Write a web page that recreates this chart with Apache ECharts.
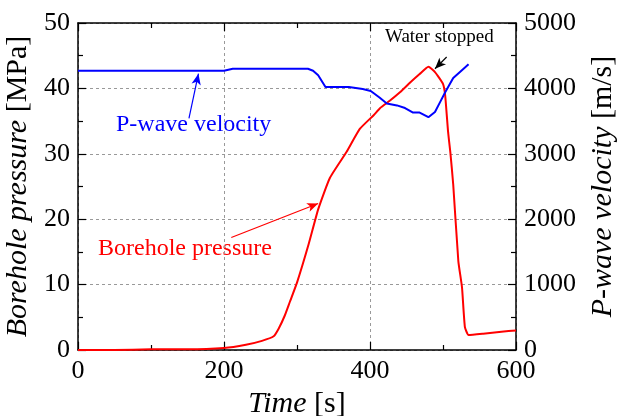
<!DOCTYPE html>
<html>
<head>
<meta charset="utf-8">
<script src="https://cdn.jsdelivr.net/npm/echarts@6/dist/echarts.min.js"></script>
<style>
html,body{margin:0;padding:0;background:#fff;}
#chart{width:622px;height:416px;}
</style>
</head>
<body>
<div id="chart"></div>
<script>
// ---- data ----
var pressureTime = [0, 50, 100, 150, 200, 230, 252, 268, 275, 283, 290, 300, 316, 329, 345, 368, 386, 405, 414, 427, 441, 455, 468, 480, 489, 500, 503, 507, 510, 514, 521, 526, 530, 535, 555, 580, 600];
var pressure     = [0, 0, 0.1, 0.1, 0.3, 0.8, 1.4, 2.1, 3.3, 5.2, 7.3, 10.3, 16.2, 21.5, 26.3, 30.3, 33.8, 35.9, 37.0, 38.1, 39.4, 40.9, 42.2, 43.3, 42.5, 40.7, 38.9, 33.3, 30.3, 25.3, 13.6, 9.6, 3.5, 2.3, 2.5, 2.8, 3.0];

var velocityTime = [0, 200, 212, 315, 322, 329, 339, 371, 390, 401, 413, 423, 437, 448, 459, 468, 480, 489, 496, 503, 514, 524, 535];
var velocity     = [4270, 4270, 4300, 4300, 4270, 4200, 4020, 4020, 3990, 3960, 3860, 3770, 3740, 3700, 3630, 3630, 3560, 3640, 3790, 3940, 4160, 4260, 4370];

var xTicks = [0, 200, 400, 600];
var pressureTicks = [0, 10, 20, 30, 40, 50];
var velocityTicks = [0, 1000, 2000, 3000, 4000, 5000];

// annotation arrows [from, to] in data coordinates
var velArrow = [[152, 3540], [165, 4225]];
var presArrow = [[210, 17.2], [329, 22.4]];
var stopArrow = [[505, 44.8], [489, 43.0]];

var serif = 'Liberation Serif';
var chart = echarts.init(document.getElementById('chart'));

function pairs(xs, ys){ return xs.map(function(x,i){ return [x, ys[i]]; }); }

function tickLabel(){
  return {fontFamily: serif, fontSize: 26, color: '#000',
          formatter: function(v){ return String(v); }};
}
function nameStyle(){
  return {
    fontFamily: serif, fontSize: 30, color: '#000',
    rich: {
      i: {fontFamily: serif, fontSize: 30, fontStyle: 'italic', color: '#000'},
      n: {fontFamily: serif, fontSize: 30, color: '#000'}
    }
  };
}
function splitStyle(){ return {show: true, lineStyle: {color: '#999', type: [3, 3], width: 1}}; }
function axLine(){ return {show: true, onZero: false, lineStyle: {color: '#000', width: 1.5}}; }
function axTick(){ return {show: true, inside: true, length: 8, lineStyle: {color: '#000', width: 1.2}}; }
function minTick(){ return {show: true, splitNumber: 2, length: 5, lineStyle: {color: '#000', width: 1.2}}; }

var option = {
  animation: false,
  grid: {left: 78, right: 106, top: 23, bottom: 66, outerBoundsMode: 'none'},
  xAxis: [{
    type: 'value', min: xTicks[0], max: xTicks[xTicks.length-1], interval: 200,
    name: '{i|Time} {n|[s]}', nameLocation: 'middle', nameGap: 32, nameTextStyle: nameStyle(),
    axisLine: axLine(), axisTick: axTick(), minorTick: minTick(),
    axisLabel: tickLabel(),
    splitLine: splitStyle()
  }, {
    type: 'value', min: 0, max: 600, interval: 200, position: 'top',
    axisLine: axLine(), axisTick: axTick(), minorTick: minTick(),
    axisLabel: {show: false}, splitLine: {show: false}
  }],
  yAxis: [{
    type: 'value', min: pressureTicks[0], max: pressureTicks[pressureTicks.length-1], interval: 10,
    name: '{i|Borehole pressure} {n|[MPa]}', nameLocation: 'middle', nameRotate: 90, nameGap: 34,
    nameTextStyle: nameStyle(),
    axisLine: axLine(), axisTick: axTick(), minorTick: minTick(),
    axisLabel: tickLabel(),
    splitLine: splitStyle()
  }, {
    type: 'value', min: velocityTicks[0], max: velocityTicks[velocityTicks.length-1], interval: 1000,
    name: '{i|P-wave velocity} {n|[m/s]}', nameLocation: 'middle', nameRotate: 90, nameGap: 72,
    nameTextStyle: nameStyle(),
    axisLine: axLine(), axisTick: axTick(), minorTick: minTick(),
    axisLabel: tickLabel(),
    splitLine: {show: false}
  }],
  series: [{
    type: 'line', xAxisIndex: 0, yAxisIndex: 0,
    data: pairs(pressureTime, pressure), showSymbol: false, smooth: 0.15,
    lineStyle: {color: '#ff0000', width: 2}, itemStyle: {color: '#ff0000'}, z: 3,
    markLine: {
      silent: true, symbol: ['none', 'arrow'], symbolSize: [7, 11], label: {show: false},
      lineStyle: {type: 'solid', width: 1.2, color: '#ff0000'},
      data: [
        [{coord: presArrow[0]}, {coord: presArrow[1]}],
        [{coord: stopArrow[0], lineStyle: {color: '#000'}, itemStyle: {color: '#000'}}, {coord: stopArrow[1], itemStyle: {color: '#000'}}]
      ]
    }
  }, {
    type: 'line', xAxisIndex: 0, yAxisIndex: 1,
    data: pairs(velocityTime, velocity), showSymbol: false,
    lineStyle: {color: '#0000ff', width: 2}, itemStyle: {color: '#0000ff'}, z: 3,
    markLine: {
      silent: true, symbol: ['none', 'arrow'], symbolSize: [7, 11], label: {show: false},
      lineStyle: {type: 'solid', width: 1.2, color: '#0000ff'},
      data: [[{coord: velArrow[0]}, {coord: velArrow[1]}]]
    }
  }],
  graphic: [
    {type: 'text', left: 116, top: 113, style: {text: 'P-wave velocity', fill: '#0000ff', fontFamily: serif, fontSize: 24}},
    {type: 'text', left: 98, top: 237, style: {text: 'Borehole pressure', fill: '#ff0000', fontFamily: serif, fontSize: 24}},
    {type: 'text', left: 385, top: 28, style: {text: 'Water stopped', fill: '#000', fontFamily: serif, fontSize: 19}}
  ]
};
chart.setOption(option);
</script>
</body>
</html>
